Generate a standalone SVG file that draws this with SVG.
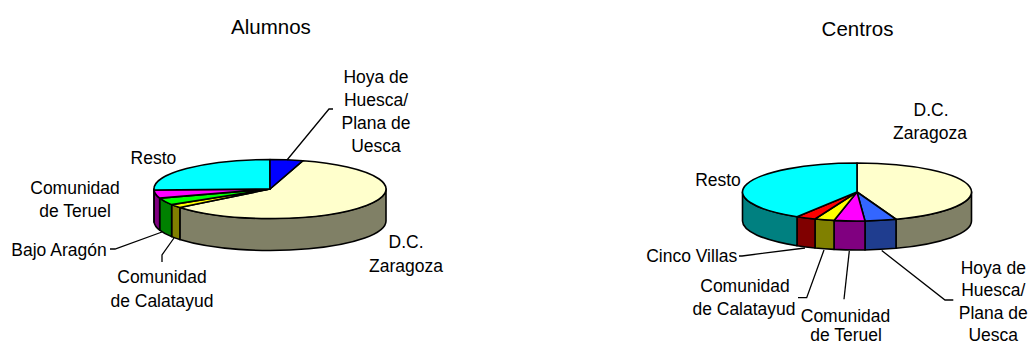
<svg xmlns="http://www.w3.org/2000/svg" width="1031" height="345" viewBox="0 0 1031 345">
<style>
.t{font-family:"Liberation Sans",Arial,sans-serif;font-size:20.5px;fill:#000;text-anchor:middle}
.l{font-family:"Liberation Sans",Arial,sans-serif;font-size:17.5px;fill:#000;text-anchor:middle}
.s{stroke:#000;stroke-width:1.6;stroke-linejoin:round}
.ld{fill:none;stroke:#000;stroke-width:1.3}
</style>
<rect width="1031" height="345" fill="#fff"/>
<g id="chart-alumnos">
<text class="t" x="271" y="34">Alumnos</text>
<g id="a-zaragoza">
<path class="s" fill="#808066" d="M386,189 A116,29.5 0 0 1 179.85,207.56 L179.85,239.56 A116,29.5 0 0 0 386,221 Z"/>
<path class="s" fill="#FFFFCC" d="M270,189 L302.94,160.72 A116,29.5 0 1 1 179.85,207.56 Z"/>
<text class="l" x="406" y="248.3">D.C.</text>
<text class="l" x="406" y="271.7">Zaragoza</text>
</g>
<g id="a-calatayud">
<path class="s" fill="#808000" d="M179.85,207.56 A116,29.5 0 0 1 171.63,204.63 L171.63,236.63 A116,29.5 0 0 0 179.85,239.56 Z"/>
<path class="s" fill="#FFFF00" d="M270,189 L179.85,207.56 A116,29.5 0 0 1 171.63,204.63 Z"/>
<text class="l" x="162" y="283.3">Comunidad</text>
<text class="l" x="162" y="306.7">de Calatayud</text>
</g>
<g id="a-bajoaragon">
<path class="s" fill="#008000" d="M171.63,204.63 A116,29.5 0 0 1 159.67,198.12 L159.67,230.12 A116,29.5 0 0 0 171.63,236.63 Z"/>
<path class="s" fill="#00FF00" d="M270,189 L171.63,204.63 A116,29.5 0 0 1 159.67,198.12 Z"/>
<text class="l" x="59" y="255.7">Bajo Aragón</text>
</g>
<g id="a-teruel">
<path class="s" fill="#800080" d="M159.67,198.12 A116,29.5 0 0 1 154.07,190.03 L154.07,222.03 A116,29.5 0 0 0 159.67,230.12 Z"/>
<path class="s" fill="#FF00FF" d="M270,189 L159.67,198.12 A116,29.5 0 0 1 154.07,190.03 Z"/>
<text class="l" x="75" y="194.3">Comunidad</text>
<text class="l" x="75" y="217.3">de Teruel</text>
</g>
<g id="a-resto">
<path class="s" fill="#008080" d="M154.07,190.03 A116,29.5 0 0 1 154,189 L154,221 A116,29.5 0 0 0 154.07,222.03 Z"/>
<path class="s" fill="#00FFFF" d="M270,189 L154.07,190.03 A116,29.5 0 0 1 270,159.5 Z"/>
<text class="l" x="153.4" y="164">Resto</text>
</g>
<g id="a-hoya">
<path class="s" fill="#0000FF" d="M270,189 L270,159.5 A116,29.5 0 0 1 302.94,160.72 Z"/>
<text class="l" x="376" y="82.5">Hoya de</text>
<text class="l" x="376" y="105.5">Huesca/</text>
<text class="l" x="376" y="128.5">Plana de</text>
<text class="l" x="376" y="151.5">Uesca</text>
</g>
</g>
<g id="chart-centros">
<text class="t" x="857.5" y="35.7">Centros</text>
<g id="c-zaragoza">
<path class="s" fill="#808066" d="M971.5,192 A114.5,29 0 0 1 896,219.27 L896,248.27 A114.5,29 0 0 0 971.5,221 Z"/>
<path class="s" fill="#FFFFCC" d="M857,192 L857,163 A114.5,29 0 0 1 896,219.27 Z"/>
<text class="l" x="931" y="116">D.C.</text>
<text class="l" x="930" y="139.3">Zaragoza</text>
</g>
<g id="c-hoya">
<path class="s" fill="#1F3D8F" d="M896,219.27 A114.5,29 0 0 1 865,220.93 L865,249.93 A114.5,29 0 0 0 896,248.27 Z"/>
<path class="s" fill="#3366FF" d="M857,192 L896,219.27 A114.5,29 0 0 1 865,220.93 Z"/>
<text class="l" x="993.3" y="273.5">Hoya de</text>
<text class="l" x="993.3" y="296.2">Huesca/</text>
<text class="l" x="993.3" y="319">Plana de</text>
<text class="l" x="993.3" y="341.3">Uesca</text>
</g>
<g id="c-teruel">
<path class="s" fill="#800080" d="M865,220.93 A114.5,29 0 0 1 834,220.41 L834,249.41 A114.5,29 0 0 0 865,249.93 Z"/>
<path class="s" fill="#FF00FF" d="M857,192 L865,220.93 A114.5,29 0 0 1 834,220.41 Z"/>
<text class="l" x="845.5" y="321.5">Comunidad</text>
<text class="l" x="846" y="341.3">de Teruel</text>
</g>
<g id="c-calatayud">
<path class="s" fill="#808000" d="M834,220.41 A114.5,29 0 0 1 815,218.98 L815,247.98 A114.5,29 0 0 0 834,249.41 Z"/>
<path class="s" fill="#FFFF00" d="M857,192 L834,220.41 A114.5,29 0 0 1 815,218.98 Z"/>
<text class="l" x="745" y="291.7">Comunidad</text>
<text class="l" x="744" y="315">de Calatayud</text>
</g>
<g id="c-cincovillas">
<path class="s" fill="#800000" d="M815,218.98 A114.5,29 0 0 1 797,216.7 L797,245.7 A114.5,29 0 0 0 815,247.98 Z"/>
<path class="s" fill="#FF0000" d="M857,192 L815,218.98 A114.5,29 0 0 1 797,216.7 Z"/>
<text class="l" x="691.7" y="261.7">Cinco Villas</text>
</g>
<g id="c-resto">
<path class="s" fill="#008080" d="M797,216.7 A114.5,29 0 0 1 742.5,192 L742.5,221 A114.5,29 0 0 0 797,245.7 Z"/>
<path class="s" fill="#00FFFF" d="M857,192 L797,216.7 A114.5,29 0 0 1 857,163 Z"/>
<text class="l" x="718" y="185.7">Resto</text>
</g>
</g>
<g id="connectors">
<path class="ld" d="M333,109 L329,109 L287,160"/>
<path class="ld" d="M110,249 L115,249 L162,232"/>
<path class="ld" d="M162,262 L162,255 L174,238"/>
<path class="ld" d="M739,256 L742,256 L805,248"/>
<path class="ld" d="M798,297.7 L806.7,297.7 L824,250"/>
<path class="ld" d="M844,299.3 L849.3,251"/>
<path class="ld" d="M953.3,300 L945,300 L881.7,250.5"/>
</g>
</svg>
